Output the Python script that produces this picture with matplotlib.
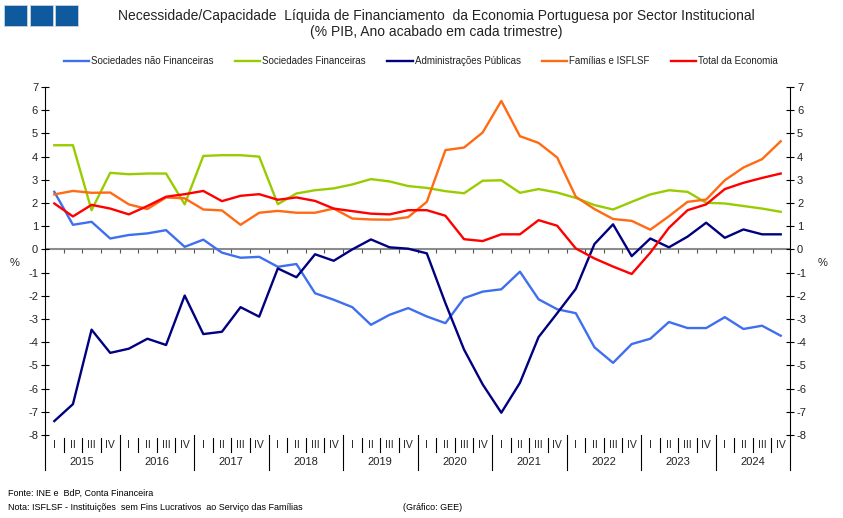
import matplotlib
matplotlib.use("Agg")
import matplotlib.pyplot as plt
from matplotlib.patches import Rectangle

plt.rcParams['font.family'] = ['Liberation Sans', 'DejaVu Sans']
plt.rcParams['axes.unicode_minus'] = False

# dados trimestrais 2015 T1 .. 2024 T4 (% PIB, ano acabado em cada trimestre)
anos = ['2015', '2016', '2017', '2018', '2019', '2020', '2021', '2022', '2023', '2024']
trimestres = ['I', 'II', 'III', 'IV']

soc_nao_fin = [2.48, 1.06, 1.19, 0.47, 0.62, 0.69, 0.83, 0.11, 0.42, -0.14,
               -0.36, -0.32, -0.75, -0.63, -1.89, -2.17, -2.49, -3.25, -2.82, -2.53,
               -2.89, -3.18, -2.10, -1.82, -1.72, -0.96, -2.15, -2.58, -2.75, -4.22,
               -4.89, -4.08, -3.85, -3.13, -3.39, -3.39, -2.92, -3.43, -3.29, -3.72]
soc_fin = [4.49, 4.49, 1.69, 3.30, 3.24, 3.27, 3.27, 1.94, 4.03, 4.06,
           4.06, 4.00, 1.95, 2.41, 2.55, 2.63, 2.80, 3.03, 2.93, 2.73,
           2.65, 2.51, 2.42, 2.96, 2.98, 2.44, 2.60, 2.45, 2.22, 1.91,
           1.72, 2.05, 2.37, 2.55, 2.48, 2.01, 1.98, 1.87, 1.76, 1.62]
adm_publicas = [-7.40, -6.67, -3.46, -4.46, -4.28, -3.85, -4.12, -1.99, -3.65, -3.55,
                -2.49, -2.90, -0.82, -1.20, -0.21, -0.49, 0.00, 0.43, 0.09, 0.03,
                -0.17, -2.32, -4.32, -5.82, -7.04, -5.75, -3.78, -2.75, -1.70, 0.23,
                1.08, -0.29, 0.47, 0.09, 0.55, 1.15, 0.50, 0.86, 0.65, 0.65]
familias = [2.37, 2.52, 2.44, 2.45, 1.94, 1.74, 2.24, 2.20, 1.72, 1.68,
            1.06, 1.58, 1.66, 1.58, 1.58, 1.76, 1.33, 1.29, 1.28, 1.39,
            2.05, 4.28, 4.39, 5.04, 6.40, 4.88, 4.59, 3.96, 2.27, 1.74,
            1.31, 1.23, 0.85, 1.43, 2.05, 2.15, 2.98, 3.53, 3.89, 4.66]
total = [1.98, 1.42, 1.92, 1.76, 1.51, 1.87, 2.27, 2.38, 2.52, 2.08,
         2.31, 2.38, 2.14, 2.24, 2.09, 1.76, 1.65, 1.54, 1.51, 1.69,
         1.69, 1.45, 0.44, 0.36, 0.65, 0.65, 1.26, 1.02, 0.04, -0.39,
         -0.74, -1.06, -0.14, 0.93, 1.69, 1.94, 2.60, 2.87, 3.08, 3.27]

series = [
    ('Sociedades não Financeiras', soc_nao_fin, '#3F6FEF'),
    ('Sociedades Financeiras', soc_fin, '#99CC00'),
    ('Administrações Públicas', adm_publicas, '#000080'),
    ('Famílias e ISFLSF', familias, '#FF6A13'),
    ('Total da Economia', total, '#FF0000'),
]

W, H = 843, 518
fig = plt.figure(figsize=(W / 100, H / 100), dpi=100)

# area do grafico em pixeis
x0, x1, ytop, ybot = 45, 790, 87, 435
ax = fig.add_axes([x0 / W, 1 - ybot / H, (x1 - x0) / W, (ybot - ytop) / H])

n = len(total)
xs = [i + 0.5 for i in range(n)]

ax.axhline(0, color='#8C8C8C', lw=1.5, zorder=1)
ax.vlines(range(1, n), -0.17, 0, color='#555555', lw=0.8, zorder=1)

handles = []
for nome, vals, cor in series:
    h, = ax.plot(xs, vals, color=cor, lw=1.7, label=nome, zorder=3)
    handles.append(h)

ax.set_xlim(0, n)
ax.set_ylim(-8, 7)
ax.set_xticks([])
ax.set_yticks(range(-8, 8))
ax.tick_params(axis='y', direction='inout', length=6, width=0.8, labelsize=8, pad=2,
               labelcolor='#222222')
for s in ['top', 'bottom', 'right']:
    ax.spines[s].set_visible(False)
ax.spines['left'].set_linewidth(0.8)

ax2 = ax.twinx()
ax2.set_ylim(-8, 7)
ax2.set_yticks(range(-8, 8))
ax2.tick_params(axis='y', direction='inout', length=6, width=0.8, labelsize=8, pad=2,
                labelcolor='#222222')
for s in ['top', 'bottom', 'left']:
    ax2.spines[s].set_visible(False)
ax2.spines['right'].set_linewidth(0.8)

# eixo de categorias (trimestres / anos)
tr = ax.get_xaxis_transform()
def fy(px):
    return (ybot - px) / (ybot - ytop)

for i in range(n):
    ax.text(xs[i], fy(445), trimestres[i % 4], transform=tr, ha='center', va='center',
            fontsize=7.5, color='#222222')
for k in range(n + 1):
    if k % 4 == 0:
        ax.plot([k, k], [fy(ybot), fy(470)], transform=tr, color='black', lw=0.8, clip_on=False)
    else:
        ax.plot([k, k], [fy(438), fy(452)], transform=tr, color='black', lw=0.8, clip_on=False)
for j, ano in enumerate(anos):
    ax.text(4 * j + 2, fy(462), ano, transform=tr, ha='center', va='center',
            fontsize=8, color='#222222')

fig.text(15 / W, 1 - 263 / H, '%', fontsize=8, ha='center', va='center', color='#222222')
fig.text(823 / W, 1 - 263 / H, '%', fontsize=8, ha='center', va='center', color='#222222')

# titulo
fig.text(436 / W, 1 - 16 / H,
         'Necessidade/Capacidade  Líquida de Financiamento  da Economia Portuguesa por Sector Institucional',
         fontsize=10, ha='center', va='center', color='#222222')
fig.text(436 / W, 1 - 32 / H, '(% PIB, Ano acabado em cada trimestre)',
         fontsize=10, ha='center', va='center', color='#222222')

# logotipo
for lx in [4, 30, 55]:
    fig.patches.append(Rectangle((lx / W, 1 - 26 / H), 23 / W, 21 / H, transform=fig.transFigure,
                                 facecolor='#0F5A9E', edgecolor='#C8D3DE', lw=0.6))

leg = fig.legend(handles=handles, loc='center', bbox_to_anchor=(421 / W, 1 - 61 / H), ncol=5,
                 frameon=False, fontsize=7, handlelength=2.6, handletextpad=0.2,
                 columnspacing=2.2)
for t in leg.get_texts():
    t.set_color('#222222')

fig.text(8 / W, 1 - 493 / H, 'Fonte: INE e  BdP, Conta Financeira', fontsize=6.5, va='center')
fig.text(8 / W, 1 - 507 / H,
         'Nota: ISFLSF - Instituições  sem Fins Lucrativos  ao Serviço das Famílias',
         fontsize=6.5, va='center')
fig.text(403 / W, 1 - 507 / H, '(Gráfico: GEE)', fontsize=6.5, va='center')

fig.savefig('out.png', dpi=100)
